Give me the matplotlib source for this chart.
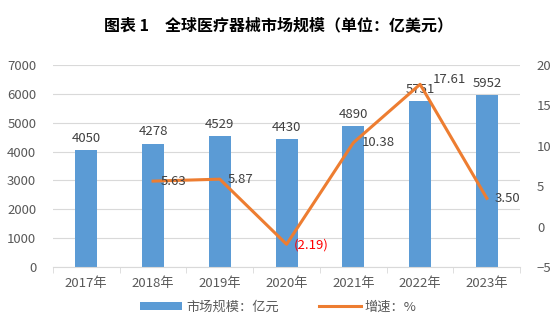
import numpy as np
import matplotlib.pyplot as plt
from matplotlib.ticker import MultipleLocator

plt.rcParams['font.family'] = ['Noto Sans CJK SC', 'DejaVu Sans']

years = ['2017年', '2018年', '2019年', '2020年', '2021年', '2022年', '2023年']
market_size = [4050, 4278, 4529, 4430, 4890, 5751, 5952]
growth = [np.nan, 5.63, 5.87, -2.19, 10.38, 17.61, 3.50]
growth_labels = ['', '5.63', '5.87', '(2.19)', '10.38', '17.61', '3.50']

bar_color = '#5B9BD5'
line_color = '#ED7D31'
text_color = '#595959'

fig = plt.figure(figsize=(5.57, 3.35), dpi=100)
ax = fig.add_axes([0.095, 0.203, 0.839, 0.603])
ax2 = ax.twinx()

x = np.arange(len(years))
ax.bar(x, market_size, width=0.33, color=bar_color, zorder=2, label='市场规模：亿元')
for xi, v in zip(x, market_size):
    ax.text(xi, v + 180, str(v), ha='center', va='bottom', fontsize=9.5, color='#404040')

ax.set_ylim(0, 7000)
ax.yaxis.set_major_locator(MultipleLocator(1000))
ax.set_xlim(-0.5, len(years) - 0.5)
ax.set_xticks(x)
ax.set_xticklabels(years)
ax.set_xticks(np.arange(-0.5, len(years), 1), minor=True)
ax.tick_params(axis='x', which='major', length=0, pad=7, colors=text_color, labelsize=9.5)
ax.tick_params(axis='x', which='minor', length=4, color='#d9d9d9')
ax.tick_params(axis='y', length=0, pad=12, colors=text_color, labelsize=9.5)
ax.grid(axis='y', color='#d9d9d9', linewidth=0.8, zorder=0)
for s in ['top', 'left', 'right']:
    ax.spines[s].set_visible(False)
ax.spines['bottom'].set_color('#d9d9d9')

ax2.plot(x, growth, color=line_color, linewidth=2.2, zorder=3, label='增速：%')
for xi, g, lab in zip(x, growth, growth_labels):
    if not lab:
        continue
    if g < 0:
        ax2.text(xi + 0.1, g - 0.1, lab, ha='left', va='center', fontsize=9.5, color='#FF0000')
    elif lab == '17.61':
        ax2.text(xi + 0.19, g + 0.6, lab, ha='left', va='center', fontsize=9.5, color='#404040')
    else:
        ax2.text(xi + 0.12, g, lab, ha='left', va='center', fontsize=9.5, color='#404040')
ax2.set_ylim(-5, 20)
ax2.yaxis.set_major_locator(MultipleLocator(5))
ax2.tick_params(axis='y', length=0, pad=12, colors=text_color, labelsize=9.5)
for s in ['top', 'left', 'right', 'bottom']:
    ax2.spines[s].set_visible(False)

h1, l1 = ax.get_legend_handles_labels()
h2, l2 = ax2.get_legend_handles_labels()
fig.legend(h1 + h2, l1 + l2, loc='center', bbox_to_anchor=(0.5, 0.083), ncol=2,
           frameon=False, fontsize=9.5, labelcolor=text_color, handlelength=3.2,
           handleheight=0.5, columnspacing=3, handletextpad=0.3)

fig.text(0.5, 0.925, '图表 1　全球医疗器械市场规模（单位：亿美元）', ha='center', va='center',
         fontsize=11.5, fontweight='bold', color='black')

fig.savefig('out.png', dpi=100)
